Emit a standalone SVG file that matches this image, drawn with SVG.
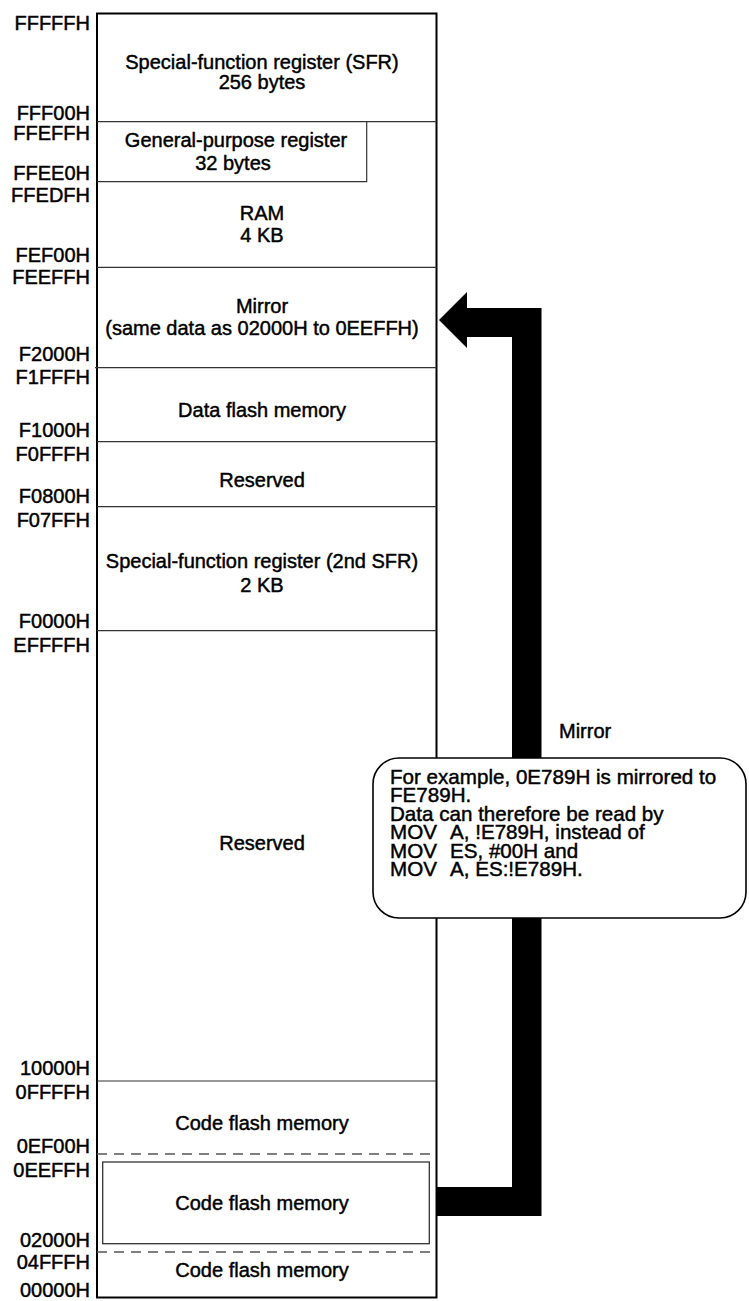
<svg xmlns="http://www.w3.org/2000/svg" width="749" height="1301" viewBox="0 0 749 1301">
<style>
text{font-family:"Liberation Sans",Arial,Helvetica,sans-serif;font-size:20px;fill:#000;stroke:#000;stroke-width:0.45px}
.addr{text-anchor:end}
.lbl{text-anchor:middle}
.note{font-size:20.6px}
.sep{stroke:#333;stroke-width:1.2;fill:none}
.dash{stroke:#555;stroke-width:1.4;stroke-dasharray:10 7;fill:none}
.box{fill:none;stroke:#333;stroke-width:1.3}
</style>
<rect width="749" height="1301" fill="#fff"/>
<g id="addresses">
<text class="addr" x="90" y="29.5">FFFFFH</text>
<text class="addr" x="90" y="120">FFF00H</text>
<text class="addr" x="90" y="140">FFEFFH</text>
<text class="addr" x="90" y="180">FFEE0H</text>
<text class="addr" x="90" y="201.5">FFEDFH</text>
<text class="addr" x="90" y="261.5">FEF00H</text>
<text class="addr" x="90" y="283.5">FEEFFH</text>
<text class="addr" x="90" y="360.5">F2000H</text>
<text class="addr" x="90" y="384">F1FFFH</text>
<text class="addr" x="90" y="436.5">F1000H</text>
<text class="addr" x="90" y="460.5">F0FFFH</text>
<text class="addr" x="90" y="502.5">F0800H</text>
<text class="addr" x="90" y="526.5">F07FFH</text>
<text class="addr" x="90" y="627.5">F0000H</text>
<text class="addr" x="90" y="652">EFFFFH</text>
<text class="addr" x="90" y="1075">10000H</text>
<text class="addr" x="90" y="1099">0FFFFH</text>
<text class="addr" x="90" y="1152.5">0EF00H</text>
<text class="addr" x="90" y="1176.5">0EEFFH</text>
<text class="addr" x="90" y="1246.5">02000H</text>
<text class="addr" x="90" y="1269">04FFFH</text>
<text class="addr" x="90" y="1296.5">00000H</text>
</g>
<g id="memory-map">
<rect x="97" y="13.5" width="339.5" height="1284" fill="#fff" stroke="#000" stroke-width="2"/>
</g>
<g id="sfr">
<line class="sep" x1="97" y1="121.7" x2="436.5" y2="121.7"/>
<text class="lbl" x="262" y="68.5">Special-function register (SFR)</text>
<text class="lbl" x="262" y="88.5">256 bytes</text>
</g>
<g id="gpr">
<polyline class="sep" points="97,181.7 366.7,181.7 366.7,121.7"/>
<text class="lbl" x="236" y="146.7">General-purpose register</text>
<text class="lbl" x="233" y="170">32 bytes</text>
</g>
<g id="ram">
<line class="sep" x1="97" y1="267.3" x2="436.5" y2="267.3"/>
<text class="lbl" x="262" y="220">RAM</text>
<text class="lbl" x="262" y="241.7">4 KB</text>
</g>
<g id="mirror">
<line class="sep" x1="95" y1="367.7" x2="436.5" y2="367.7"/>
<text class="lbl" x="262" y="313.3">Mirror</text>
<text class="lbl" x="262" y="335">(same data as 02000H to 0EEFFH)</text>
</g>
<g id="data-flash">
<line class="sep" x1="97" y1="441.7" x2="436.5" y2="441.7"/>
<text class="lbl" x="262" y="416.7">Data flash memory</text>
</g>
<g id="reserved-1">
<line class="sep" x1="97" y1="506.7" x2="436.5" y2="506.7"/>
<text class="lbl" x="262" y="486.7">Reserved</text>
</g>
<g id="sfr2">
<line class="sep" x1="97" y1="630.7" x2="436.5" y2="630.7"/>
<text class="lbl" x="262" y="568.3">Special-function register (2nd SFR)</text>
<text class="lbl" x="262" y="591.7">2 KB</text>
</g>
<g id="reserved-2">
<line class="sep" x1="97" y1="1081" x2="436.5" y2="1081"/>
<text class="lbl" x="262" y="850">Reserved</text>
</g>
<g id="code-flash-1">
<line class="dash" x1="97" y1="1154" x2="436" y2="1154"/>
<text class="lbl" x="262" y="1130">Code flash memory</text>
</g>
<g id="code-flash-2">
<rect class="box" x="102.7" y="1162" width="326.6" height="81.7"/>
<text class="lbl" x="262" y="1210">Code flash memory</text>
</g>
<g id="code-flash-3">
<line class="dash" x1="97" y1="1252" x2="436" y2="1252"/>
<text class="lbl" x="262" y="1277">Code flash memory</text>
</g>
<g id="connectors">
<polygon points="439,320 467,292 467,308 541.5,308 541.5,1216 437,1216 437,1187 512,1187 512,337 467,337 467,348" fill="#000"/>
<text x="559" y="738">Mirror</text>
</g>
<g id="callout">
<rect x="373" y="758" width="373" height="160" rx="26" ry="26" fill="#fff" stroke="#000" stroke-width="1.6"/>
<text class="note" x="390" y="783.5">For example, 0E789H is mirrored to</text>
<text class="note" x="390" y="802">FE789H.</text>
<text class="note" x="390" y="820.5">Data can therefore be read by</text>
<text class="note" x="390" y="839">MOV<tspan x="450">A, !E789H, instead of</tspan></text>
<text class="note" x="390" y="857.5">MOV<tspan x="450">ES, #00H and</tspan></text>
<text class="note" x="390" y="876">MOV<tspan x="450">A, ES:!E789H.</tspan></text>
</g>
</svg>
